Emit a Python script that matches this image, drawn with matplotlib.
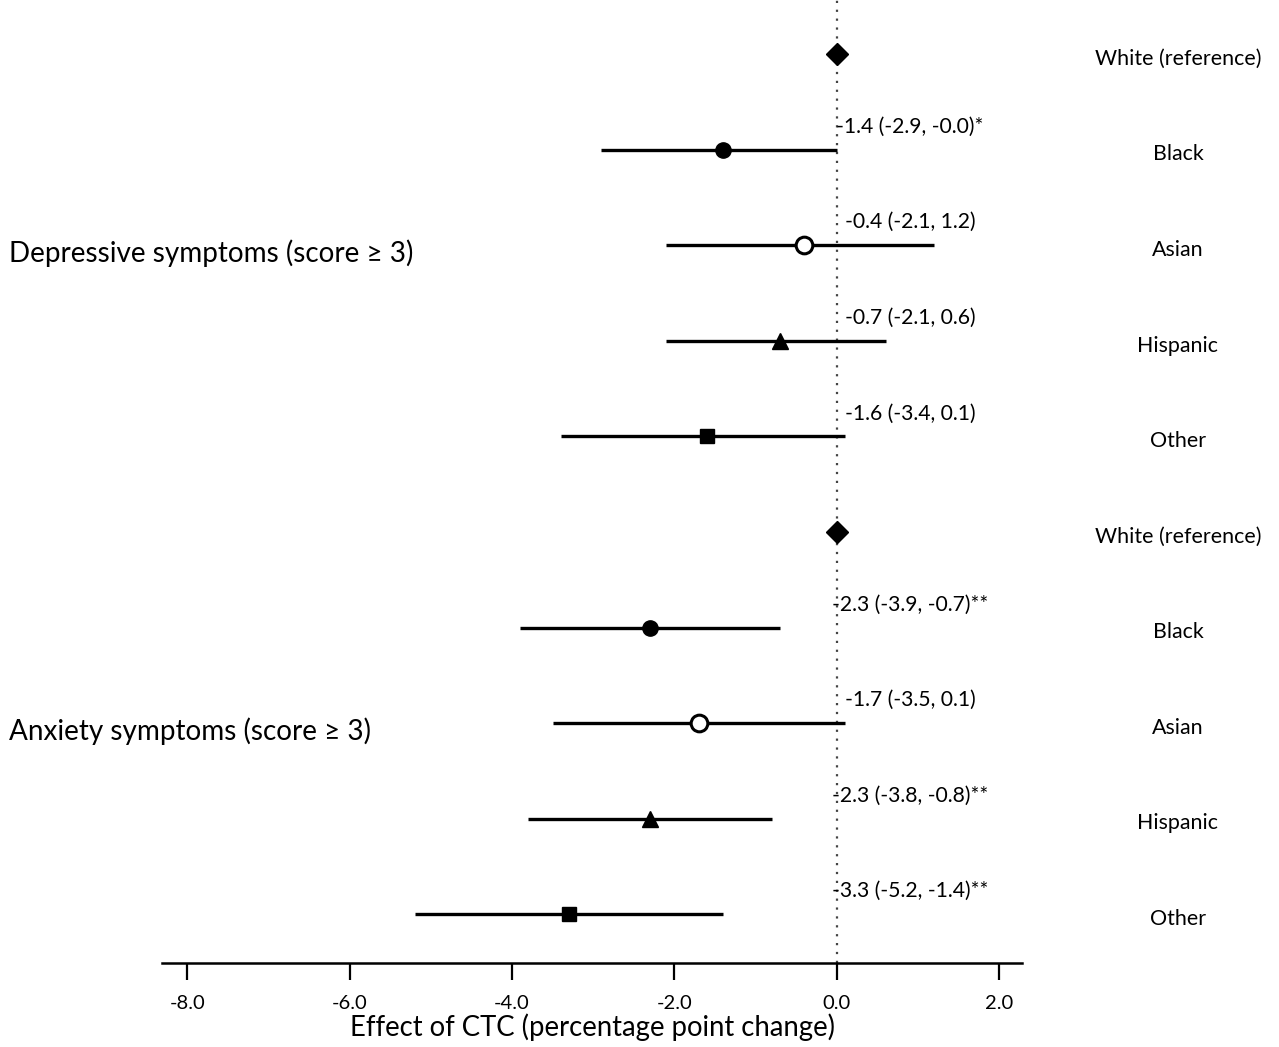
import matplotlib
matplotlib.use('Agg')
import matplotlib.pyplot as plt

plt.rcParams['font.family'] = ['Lato', 'DejaVu Sans']

# rows top to bottom
groups = ['Depressive symptoms (score \u2265 3)', 'Anxiety symptoms (score \u2265 3)']
races = ['White (reference)', 'Black', 'Asian', 'Hispanic', 'Other']

# depressive symptoms
dep_est = [0.0, -1.4, -0.4, -0.7, -1.6]
dep_lo = [None, -2.9, -2.1, -2.1, -3.4]
dep_hi = [None, -0.0, 1.2, 0.6, 0.1]
dep_sig = ['', '*', '', '', '']

# anxiety symptoms
anx_est = [0.0, -2.3, -1.7, -2.3, -3.3]
anx_lo = [None, -3.9, -3.5, -3.8, -5.2]
anx_hi = [None, -0.7, 0.1, -0.8, -1.4]
anx_sig = ['', '**', '', '**', '**']

xticks = [-8.0, -6.0, -4.0, -2.0, 0.0, 2.0]

marker_style = {
    'White (reference)': dict(marker='D', ms=11, mfc='black', mec='black'),
    'Black': dict(marker='o', ms=11, mfc='black', mec='black'),
    'Asian': dict(marker='o', ms=12, mfc='white', mec='black', mew=2.2),
    'Hispanic': dict(marker='^', ms=12, mfc='black', mec='black'),
    'Other': dict(marker='s', ms=10, mfc='black', mec='black'),
}


def fmt(v):
    return f'{v:.1f}'


fig = plt.figure(figsize=(12.79, 10.47), dpi=100)
ax = fig.add_axes([0.1267, 0.0802, 0.6724, 0.9198])

ax.axvline(0, color='#444444', linestyle=(0, (1, 3)), linewidth=1.6, zorder=1)

all_sets = [(dep_est, dep_lo, dep_hi, dep_sig), (anx_est, anx_lo, anx_hi, anx_sig)]
row = 0
for g, (est, lo, hi, sig) in enumerate(all_sets):
    for i, race in enumerate(races):
        y = row
        if lo[i] is not None:
            ax.plot([lo[i], hi[i]], [y, y], color='black', linewidth=2.4,
                    solid_capstyle='butt', zorder=2)
            label = f'{fmt(est[i])} ({fmt(lo[i])}, {fmt(hi[i])}){sig[i]}'
            ax.text(0.9, y - 0.24, label, ha='center', va='center',
                    fontsize=15.2, zorder=4)
        ax.plot([est[i]], [y], linestyle='none', zorder=3, **marker_style[race])
        ax.text(4.2, y + 0.05, race, ha='center', va='center', fontsize=15.4,
                clip_on=False)
        row += 1
    ax.text(-10.2, g * 5 + 2.08, groups[g], ha='left', va='center',
            fontsize=20.1, clip_on=False)

ax.set_xlim(-8.31, 2.28)
ax.set_ylim(9.51, -0.565)
ax.set_yticks([])
ax.set_xticks(xticks)
ax.set_xticklabels([fmt(t) for t in xticks], fontsize=14.5)
ax.set_xlabel('Effect of CTC (percentage point change)', fontsize=19.8, labelpad=1)
for s in ['top', 'left', 'right']:
    ax.spines[s].set_visible(False)
ax.spines['bottom'].set_linewidth(1.8)
ax.tick_params(axis='x', direction='out', length=12, width=1.6, pad=11)

fig.savefig('out.png', dpi=100)
